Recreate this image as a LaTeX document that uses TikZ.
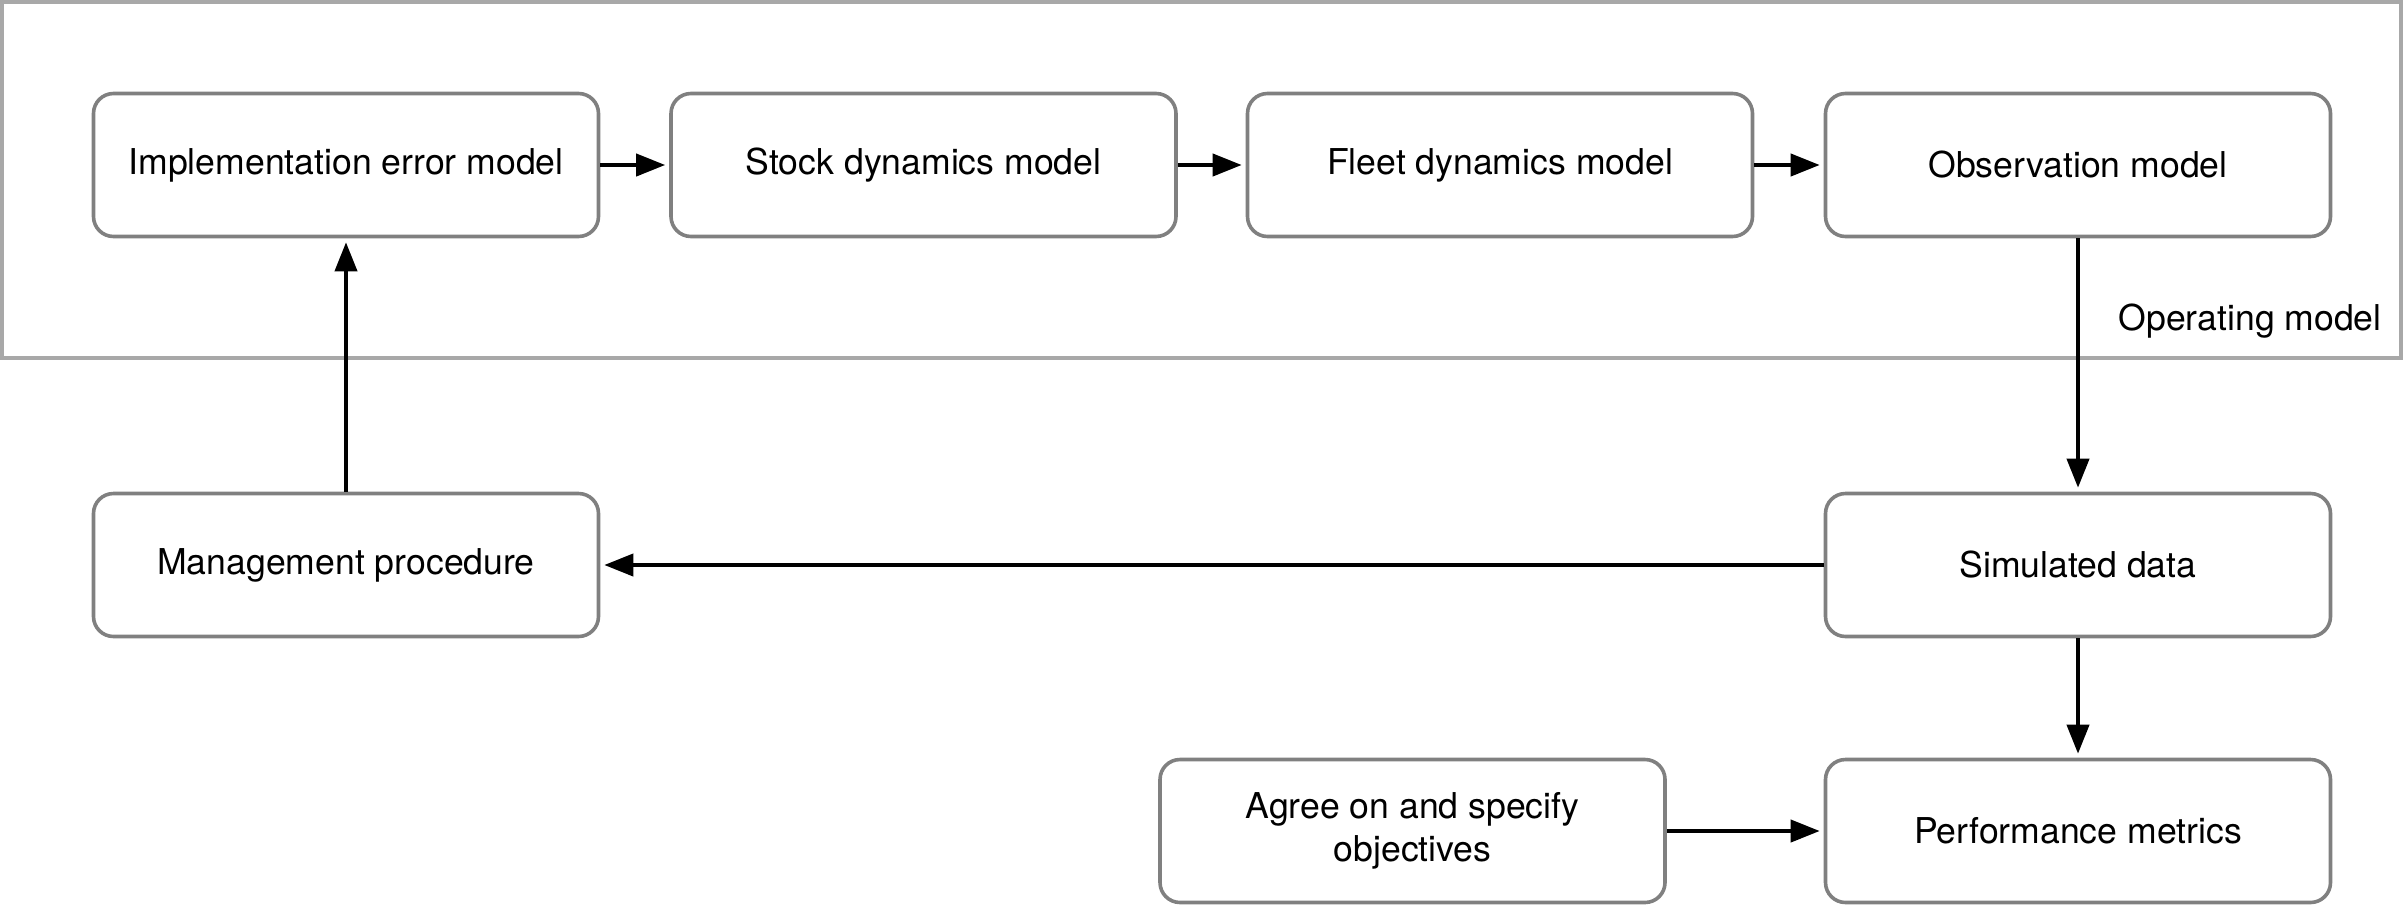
\documentclass[tikz,border=0pt]{standalone}
\usepackage{fontspec}
\setmainfont{TeX Gyre Heros}
\usetikzlibrary{arrows.meta}
\definecolor{boxgray}{HTML}{808080}
\definecolor{framegray}{HTML}{A8A8A8}
\begin{document}
\begin{tikzpicture}[x=0.5pt,y=-0.5pt,
  mbox/.style={draw=boxgray, line width=1.8pt, rounded corners=10pt, fill=white,
    minimum width=252.5pt, minimum height=71.5pt, inner sep=0pt, align=center,
    font=\fontsize{17.8}{21.5}\selectfont},
  conn/.style={line width=2pt, -{Triangle[length=14.5pt,width=11pt]}, shorten >=2pt}]
\useasboundingbox (0,0) rectangle (2404,906);
\draw[framegray, line width=1.7pt] (2,2) rectangle (2401,358);
\node[mbox] (impl) at (346,165) {Implementation error model};
\node[mbox] (stock) at (923.5,165) {Stock dynamics model};
\node[mbox] (fleet) at (1500,165) {Fleet dynamics model};
\node[mbox] (obs) at (2078,165) {Observation model};
\node[mbox] (mgmt) at (346,565) {Management procedure};
\node[mbox] (sim) at (2078,565) {Simulated data};
\node[mbox] (agree) at (1412.5,831) {Agree on and specify\\objectives};
\node[mbox] (perf) at (2078,831) {Performance metrics};
\node[anchor=east, inner sep=0pt, font=\fontsize{17.8}{21.5}\selectfont] (om) at (2382,321) {Operating model};
\draw[conn] (impl) -- (stock);
\draw[conn] (stock) -- (fleet);
\draw[conn] (fleet) -- (obs);
\draw[conn] (obs) -- (sim);
\draw[conn] (sim) -- (mgmt);
\draw[conn] (mgmt) -- (impl);
\draw[conn] (sim) -- (perf);
\draw[conn] (agree) -- (perf);
\end{tikzpicture}
\end{document}
